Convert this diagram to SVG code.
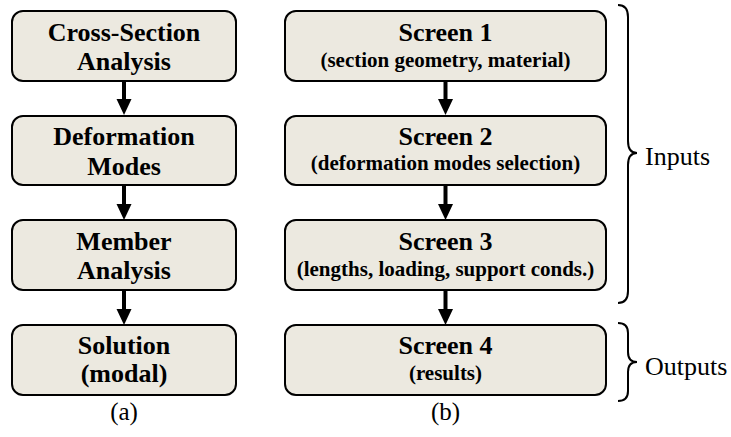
<svg xmlns="http://www.w3.org/2000/svg" width="731" height="437" viewBox="0 0 731 437">
<style>
.box{fill:#ECE9E0;stroke:#000;stroke-width:2}
text{font-family:'Liberation Serif','Tinos','DejaVu Serif',serif;fill:#000}
.t{font-weight:bold;font-size:26px;text-anchor:middle}
.s{font-weight:bold;font-size:21px;text-anchor:middle}
.r{font-size:26px}
.c{font-size:25px;text-anchor:middle}
.sh{stroke:#000;stroke-width:4;fill:none}
.br{stroke:#000;stroke-width:2;fill:none}
</style>
<defs>
<polygon id="head" points="-7.5,0 7.5,0 0,16" fill="#000"/>
</defs>
<g id="connectors">
<line class="sh" x1="124" y1="81" x2="124" y2="100"/><use href="#head" x="124" y="99"/>
<line class="sh" x1="124" y1="185" x2="124" y2="205"/><use href="#head" x="124" y="204"/>
<line class="sh" x1="124" y1="290" x2="124" y2="310"/><use href="#head" x="124" y="309"/>
<line class="sh" x1="445.5" y1="81" x2="445.5" y2="100"/><use href="#head" x="445.5" y="99"/>
<line class="sh" x1="445.5" y1="185" x2="445.5" y2="205"/><use href="#head" x="445.5" y="204"/>
<line class="sh" x1="445.5" y1="290" x2="445.5" y2="310"/><use href="#head" x="445.5" y="309"/>
</g>
<g id="a1"><rect class="box" x="12" y="11" width="224" height="70" rx="11"/><text class="t" x="124" y="41">Cross-Section</text><text class="t" x="124" y="70">Analysis</text></g>
<g id="a2"><rect class="box" x="12" y="116" width="224" height="69" rx="11"/><text class="t" x="124" y="145">Deformation</text><text class="t" x="124" y="175">Modes</text></g>
<g id="a3"><rect class="box" x="12" y="220" width="224" height="70" rx="11"/><text class="t" x="124" y="250">Member</text><text class="t" x="124" y="279">Analysis</text></g>
<g id="a4"><rect class="box" x="12" y="325" width="224" height="70" rx="11"/><text class="t" x="124" y="354">Solution</text><text class="t" x="124" y="382">(modal)</text></g>
<g id="b1"><rect class="box" x="285" y="11" width="321" height="70" rx="11"/><text class="t" x="445.5" y="41">Screen 1</text><text class="s" x="445.5" y="67">(section geometry, material)</text></g>
<g id="b2"><rect class="box" x="285" y="116" width="321" height="69" rx="11"/><text class="t" x="445.5" y="145">Screen 2</text><text class="s" x="445.5" y="170">(deformation modes selection)</text></g>
<g id="b3"><rect class="box" x="285" y="220" width="321" height="70" rx="11"/><text class="t" x="445.5" y="250">Screen 3</text><text class="s" x="445.5" y="276">(lengths, loading, support conds.)</text></g>
<g id="b4"><rect class="box" x="285" y="325" width="321" height="70" rx="11"/><text class="t" x="445.5" y="354">Screen 4</text><text class="s" x="445.5" y="380">(results)</text></g>
<g id="inputs"><path class="br" d="M618,5 Q628,5 628,17 L628,141 Q628,153 637,153 Q628,153 628,165 L628,291 Q628,303 618,303"/><text class="r" x="645" y="165">Inputs</text></g>
<g id="outputs"><path class="br" d="M618,323 Q628,323 628,333 L628,352 Q628,362 637,362 Q628,362 628,372 L628,391 Q628,401 618,401"/><text class="r" x="645" y="375">Outputs</text></g>
<text class="c" x="124" y="420">(a)</text>
<text class="c" x="445.5" y="420">(b)</text>
</svg>
